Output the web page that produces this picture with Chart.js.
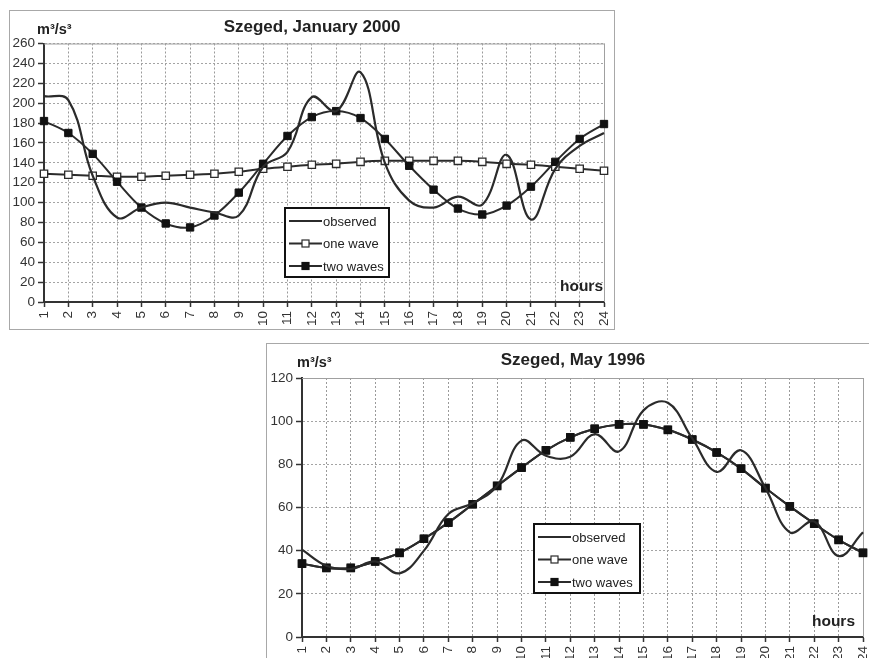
<!DOCTYPE html>
<html lang="en">
<head>
<meta charset="UTF-8">
<title>Szeged - observed and fitted daily waves</title>
<script src="https://cdn.jsdelivr.net/npm/chart.js@4.4.1/dist/chart.umd.min.js"></script>
<style>
  html, body { margin: 0; padding: 0; background: #fff; overflow: hidden; width: 869px; height: 658px; }
  canvas { position: absolute; }
  #janChart { left: 9px; top: 10px; }
  #mayChart { left: 266px; top: 343px; }
</style>
</head>
<body>
<canvas id="janChart" width="606" height="320"></canvas>
<canvas id="mayChart" width="608" height="325"></canvas>
<script>
// hours of the day (x axis)
const hours = ['1', '2', '3', '4', '5', '6', '7', '8', '9', '10', '11', '12',
               '13', '14', '15', '16', '17', '18', '19', '20', '21', '22', '23', '24'];

// Szeged, January 2000 (m3/s3)
const janObserved = [207, 203, 127, 85, 95, 100, 95, 90, 87, 136, 151, 206,
                     192, 231, 140, 102, 95, 106, 98, 148, 83, 134, 157, 170];
const janOneWave  = [129, 128, 127, 126, 126, 127, 128, 129, 131, 134, 136, 138,
                     139, 141, 142, 142, 142, 142, 141, 139, 138, 136, 134, 132];
const janTwoWaves = [182, 170, 149, 121, 95, 79, 75, 87, 110, 139, 167, 186,
                     192, 185, 164, 137, 113, 94, 88, 97, 116, 141, 164, 179];
const janMax = 260;

// Szeged, May 1996 (m3/s3)
const mayObserved = [40.5, 33, 31.5, 35, 29.5, 40, 57, 62, 70, 91, 84, 83.5,
                     94, 86, 105, 108.5, 92, 76.5, 86.5, 69, 48.5, 53.5, 37.5, 48.5];
const mayOneWave  = [34, 32, 32, 35, 39, 45.5, 53, 61.5, 70, 78.5, 86.5, 92.5,
                     96.5, 98.5, 98.5, 96, 91.5, 85.5, 78, 69, 60.5, 52.5, 45, 39];
const mayTwoWaves = [34, 32, 32, 35, 39, 45.5, 53, 61.5, 70, 78.5, 86.5, 92.5,
                     96.5, 98.5, 98.5, 96, 91.5, 85.5, 78, 69, 60.5, 52.5, 45, 39];
const mayMax = 120;

const yStep = 20;
const FONT = 'Arial, "Liberation Sans", Helvetica, sans-serif';
const INK = '#2b2b2b';

// frame, title, unit, "hours" and the boxed legend
const decor = {
  id: 'decor',
  beforeDraw(chart) {
    const { ctx, width, height } = chart;
    ctx.save();
    ctx.fillStyle = '#fff';
    ctx.fillRect(0, 0, width, height);
    ctx.strokeStyle = '#a8a8a8';
    ctx.lineWidth = 1;
    ctx.strokeRect(0.5, 0.5, width - 1, height - 1);
    ctx.restore();
  },
  beforeDatasetsDraw(chart) {
    const { ctx, chartArea: a } = chart;
    ctx.save();
    ctx.strokeStyle = '#a0a0a0';
    ctx.lineWidth = 1;
    ctx.beginPath();
    ctx.moveTo(a.left, a.top + 0.5);
    ctx.lineTo(a.right + 0.5, a.top + 0.5);
    ctx.lineTo(a.right + 0.5, a.bottom);
    ctx.stroke();
    ctx.restore();
  },
  afterDraw(chart, args, o) {
    const { ctx, chartArea: a } = chart;
    ctx.save();
    ctx.fillStyle = '#222';
    ctx.textBaseline = 'alphabetic';

    ctx.font = 'bold 17px ' + FONT;
    ctx.textAlign = 'center';
    ctx.fillText(o.title, o.titleX, 22);

    ctx.font = 'bold 14.5px ' + FONT;
    ctx.textAlign = 'left';
    ctx.fillText('m³/s³', o.unitX, 24);

    ctx.font = 'bold 15.5px ' + FONT;
    ctx.textAlign = 'right';
    ctx.fillText('hours', a.right - o.hoursDx, a.bottom - 11);

    // legend box
    const bx = a.left + o.legend.x, by = a.top + o.legend.y;
    ctx.fillStyle = '#fff';
    ctx.fillRect(bx, by, o.legend.w, o.legend.h);
    ctx.strokeStyle = '#111';
    ctx.lineWidth = 2;
    ctx.strokeRect(bx, by, o.legend.w, o.legend.h);

    ctx.font = '13px ' + FONT;
    ctx.textAlign = 'left';
    ctx.textBaseline = 'middle';
    chart.data.datasets.forEach((ds, i) => {
      const cy = by + 13 + i * 22.5;
      ctx.strokeStyle = INK;
      ctx.lineWidth = 2;
      ctx.beginPath();
      ctx.moveTo(bx + 4, cy);
      ctx.lineTo(bx + 37, cy);
      ctx.stroke();
      if (ds.pointRadius > 0) {
        ctx.fillStyle = ds.pointBackgroundColor;
        ctx.fillRect(bx + 17, cy - 3.5, 7, 7);
        ctx.strokeStyle = ds.pointBorderColor;
        ctx.lineWidth = 1.2;
        ctx.strokeRect(bx + 17, cy - 3.5, 7, 7);
      }
      ctx.fillStyle = '#222';
      ctx.fillText(ds.label, bx + 38, cy + 1);
    });
    ctx.restore();
  }
};

function makeChart(id, observed, oneWave, twoWaves, max, cfg) {
  const tickFont = { family: FONT, size: 13.5 };
  return new Chart(document.getElementById(id), {
    type: 'line',
    data: {
      labels: hours,
      datasets: [
        { label: 'observed', data: observed, borderColor: INK, borderWidth: 2.2,
          pointRadius: 0, tension: 0.4, order: 0 },
        { label: 'one wave', data: oneWave, borderColor: INK, borderWidth: 2,
          pointStyle: 'rect', pointRadius: 5.2, pointBackgroundColor: '#fff',
          pointBorderColor: INK, pointBorderWidth: 1.3, tension: 0.35, order: 2 },
        { label: 'two waves', data: twoWaves, borderColor: INK, borderWidth: 2,
          pointStyle: 'rect', pointRadius: 5.2, pointBackgroundColor: '#111',
          pointBorderColor: '#111', pointBorderWidth: 1, tension: 0.35, order: 1 }
      ]
    },
    options: {
      responsive: false,
      animation: false,
      events: [],
      layout: { padding: { top: cfg.padTop, right: cfg.padRight, left: 0, bottom: 0 } },
      plugins: {
        legend: { display: false },
        tooltip: { enabled: false },
        decor: cfg.decor
      },
      scales: {
        x: {
          offset: false,
          grid: { color: '#9a9a9a', lineWidth: 1, tickLength: 5, tickColor: '#333',
                  tickWidth: 1.5, tickBorderDash: [] },
          border: { color: '#333', width: 2, dash: [2, 2] },
          ticks: { autoSkip: false, minRotation: 90, maxRotation: 90, color: '#333',
                   font: tickFont, padding: 4 },
          afterFit(s) {
            s.height = cfg.xH;
            s.paddingLeft = 0;
            s.paddingRight = 0;
          }
        },
        y: {
          min: 0,
          max: max,
          grid: { color: '#a4a4a4', lineWidth: 1, tickLength: 6, tickColor: '#333',
                  tickWidth: 1.5, tickBorderDash: [] },
          border: { color: '#333', width: 2, dash: [2, 2] },
          ticks: { stepSize: yStep, color: '#333', font: tickFont, padding: 3 },
          afterFit(s) { s.width = cfg.yW; }
        }
      }
    },
    plugins: [decor]
  });
}

makeChart('janChart', janObserved, janOneWave, janTwoWaves, janMax, {
  padTop: 33.5, padRight: 11, xH: 28, yW: 35,
  decor: { title: 'Szeged, January 2000', titleX: 303, unitX: 28, hoursDx: 1,
           legend: { x: 241, y: 164.5, w: 104, h: 69 } }
});

makeChart('mayChart', mayObserved, mayOneWave, mayTwoWaves, mayMax, {
  padTop: 35, padRight: 11, xH: 31, yW: 36,
  decor: { title: 'Szeged, May 1996', titleX: 307, unitX: 31, hoursDx: 8,
           legend: { x: 232, y: 146, w: 106, h: 69 } }
});
</script>
</body>
</html>
